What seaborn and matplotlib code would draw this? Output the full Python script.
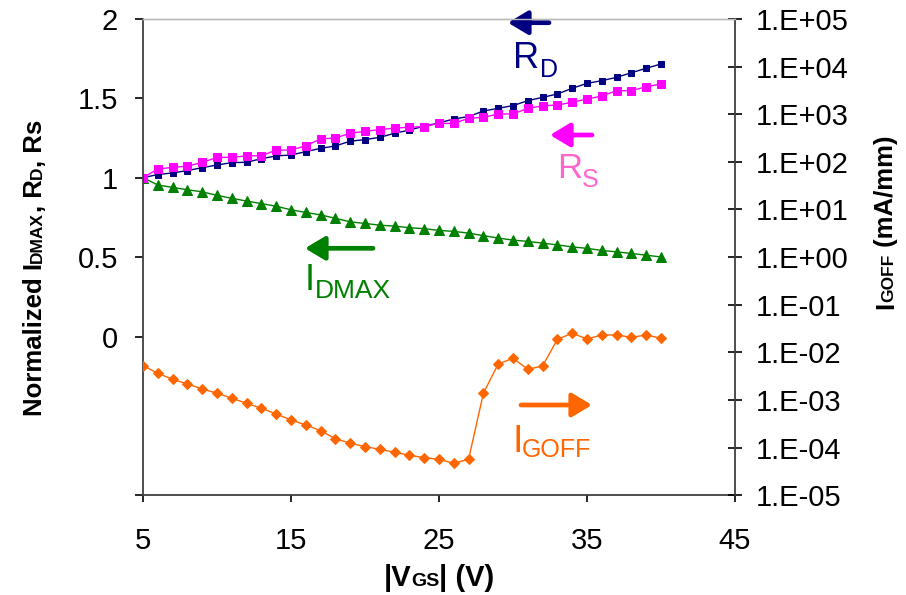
import numpy as np
import pandas as pd
import matplotlib
matplotlib.use("Agg")
import matplotlib.pyplot as plt
from matplotlib.transforms import IdentityTransform
from matplotlib.ticker import FixedLocator, FuncFormatter, NullLocator
import seaborn as sns

# ---------------- data ----------------
vgs = list(range(5, 41))
rd = [1.00, 1.02, 1.03, 1.045, 1.063, 1.08, 1.095, 1.097, 1.12, 1.137, 1.143, 1.164,
      1.185, 1.20, 1.23, 1.24, 1.254, 1.28, 1.30, 1.325, 1.345, 1.37, 1.385, 1.42,
      1.437, 1.454, 1.485, 1.506, 1.527, 1.563, 1.594, 1.611, 1.632, 1.661, 1.689, 1.716]
rs = [1.00, 1.055, 1.065, 1.073, 1.096, 1.128, 1.128, 1.138, 1.138, 1.174, 1.174, 1.201,
      1.244, 1.250, 1.280, 1.292, 1.303, 1.312, 1.318, 1.322, 1.342, 1.342, 1.374, 1.380,
      1.401, 1.401, 1.437, 1.452, 1.458, 1.475, 1.496, 1.514, 1.548, 1.548, 1.573, 1.590]
idmax = [1.00, 0.954, 0.939, 0.924, 0.911, 0.889, 0.870, 0.853, 0.837, 0.820, 0.798, 0.781,
         0.766, 0.744, 0.722, 0.712, 0.701, 0.695, 0.685, 0.679, 0.668, 0.662, 0.651, 0.635,
         0.620, 0.607, 0.599, 0.588, 0.577, 0.564, 0.555, 0.542, 0.533, 0.523, 0.512, 0.501]
igoff = [5.26e-3, 3.64e-3, 2.72e-3, 2.17e-3, 1.71e-3, 1.39e-3, 1.09e-3, 8.55e-4, 6.71e-4,
         5.09e-4, 3.81e-4, 2.99e-4, 2.27e-4, 1.54e-4, 1.24e-4, 1.05e-4, 9.25e-5, 8.0e-5,
         6.92e-5, 6.17e-5, 5.70e-5, 4.70e-5, 5.70e-5, 1.39e-3, 5.71e-3, 7.52e-3, 4.42e-3,
         5.19e-3, 1.88e-2, 2.52e-2, 1.91e-2, 2.32e-2, 2.32e-2, 2.07e-2, 2.32e-2, 1.98e-2]

x_ticks = [5, 15, 25, 35, 45]
left_ticks = [-1, 0, 0.5, 1, 1.5, 2]
left_ticklabels = ["", "0", "0.5", "1", "1.5", "2"]
right_ticks = [10.0 ** e for e in range(-5, 6)]

df = pd.DataFrame({"vgs": vgs, "rd": rd, "rs": rs, "idmax": idmax, "igoff": igoff})

# ---------------- style ----------------
sns.set_style("white")
plt.rcParams["font.family"] = ["Liberation Sans", "DejaVu Sans"]

W, H = 906, 595
fig = plt.figure(figsize=(W / 100, H / 100), dpi=100)
ax = fig.add_axes([143 / W, 1 - 495.3 / H, (735 - 143) / W, (495.3 - 18.9) / H])
ax2 = ax.twinx()

NAVY = "#000080"
MAGENTA = "#FF00FF"
PINK = "#FF66CC"
GREEN = "#008000"
ORANGE = "#FF6600"

sns.lineplot(data=df, x="vgs", y="idmax", ax=ax, color=GREEN, marker="^", markersize=7,
             markeredgecolor=GREEN, linewidth=1.0, legend=False)
sns.lineplot(data=df, x="vgs", y="rd", ax=ax, color=NAVY, marker="s", markersize=5,
             markeredgecolor=NAVY, linewidth=1.0, legend=False)
sns.lineplot(data=df, x="vgs", y="rs", ax=ax, color=MAGENTA, marker="s", markersize=6,
             markeredgecolor=MAGENTA, linewidth=1.0, legend=False)
sns.lineplot(data=df, x="vgs", y="igoff", ax=ax2, color=ORANGE, marker="D", markersize=5,
             markeredgecolor=ORANGE, linewidth=1.0, legend=False)

TICK_FS = 21
ax.set_xlim(5, 45)
ax.set_ylim(-1, 2)
ax.xaxis.set_major_locator(FixedLocator(x_ticks))
ax.set_xticklabels([str(t) for t in x_ticks])
ax.yaxis.set_major_locator(FixedLocator(left_ticks))
ax.set_yticklabels(left_ticklabels)
ax.set_xlabel("")
ax.set_ylabel("")
ax.tick_params(axis="y", which="major", direction="out", length=6, width=1.2,
               labelsize=TICK_FS, pad=12, left=True, colors="black")
ax.tick_params(axis="x", which="major", direction="out", length=5, width=1.2,
               labelsize=TICK_FS, pad=18, bottom=True, colors="black")

ax2.set_yscale("log")
ax2.set_ylim(1e-5, 1e5)
ax2.yaxis.set_major_locator(FixedLocator(right_ticks))
ax2.yaxis.set_minor_locator(NullLocator())


def efmt(v, pos):
    e = int(round(np.log10(v)))
    return "1.E%s%02d" % ("+" if e >= 0 else "-", abs(e))


ax2.yaxis.set_major_formatter(FuncFormatter(efmt))
ax2.set_ylabel("")
ax2.tick_params(axis="y", which="major", direction="inout", length=10, width=1.2,
                labelsize=TICK_FS, pad=10, right=True, colors="black")

for a in (ax, ax2):
    for s in ("left", "bottom", "right"):
        a.spines[s].set_color("#404040")
        a.spines[s].set_linewidth(1.3)
    a.spines["top"].set_color("#BBBBBB")
    a.spines["top"].set_linewidth(1.0)
ax.spines["right"].set_visible(False)
ax2.spines["left"].set_visible(False)
ax2.spines["bottom"].set_visible(False)
ax.grid(False)
ax2.grid(False)

# ---------------- annotations ----------------
IDT = IdentityTransform()


def ptext(x, y_img, s, size, color, weight="normal"):
    return fig.text(x, H - y_img, s, fontsize=size, color=color, fontweight=weight,
                    ha="left", va="baseline", transform=IDT)


def arrow(x0, x1, y_img, color):
    ax.annotate("", xy=(x1, H - y_img), xytext=(x0, H - y_img),
                xycoords="figure pixels", textcoords="figure pixels",
                arrowprops=dict(arrowstyle="-|>,head_length=0.6,head_width=0.36",
                                lw=3.4, color=color, shrinkA=0, shrinkB=0,
                                mutation_scale=20), annotation_clip=False)


arrow(549, 508, 22.7, NAVY)
ptext(513, 68, "R", 26, NAVY)
ptext(540, 77, "D", 18, NAVY)

arrow(592, 550, 135, MAGENTA)
ptext(557, 178, "R", 25, PINK)
ptext(582, 187, "S", 18, PINK)

arrow(373, 305, 248.3, GREEN)
ptext(305, 290, "I", 26, GREEN)
ptext(315, 298, "DMAX", 19, GREEN)

arrow(521, 592, 405, ORANGE)
ptext(512, 452, "I", 27, ORANGE)
ptext(522, 457, "GOFF", 18, ORANGE)

# ---------------- axis titles built from pieces ----------------
fig.canvas.draw()
renderer = fig.canvas.get_renderer()


def pieces_title(pieces, center, base, rotation):
    objs, lens = [], []
    for t, s in pieces:
        o = fig.text(0, 0, t, fontsize=s, fontweight="bold", color="black",
                     ha="left", va="baseline", rotation=rotation,
                     rotation_mode="anchor", transform=IDT)
        bb = o.get_window_extent(renderer)
        lens.append(bb.width if rotation == 0 else bb.height)
        objs.append(o)
    total = sum(lens)
    pos = center - total / 2
    for o, L in zip(objs, lens):
        if rotation == 0:
            o.set_position((pos, base))
        else:
            o.set_position((base, pos))
        pos += L


pieces_title([("|V", 21), ("GS", 14), ("| (V)", 21)], 439, 9, 0)
pieces_title([("Normalized I", 18.5), ("DMAX", 12.5), (", R", 18.5), ("D", 12.5), (", Rs", 18.5)],
             H - 268, 42, 90)
pieces_title([("I", 18.5), ("GOFF", 12.5), (" (mA/mm)", 18.5)], H - 222, 893, 90)

fig.savefig("out.png", dpi=100)
